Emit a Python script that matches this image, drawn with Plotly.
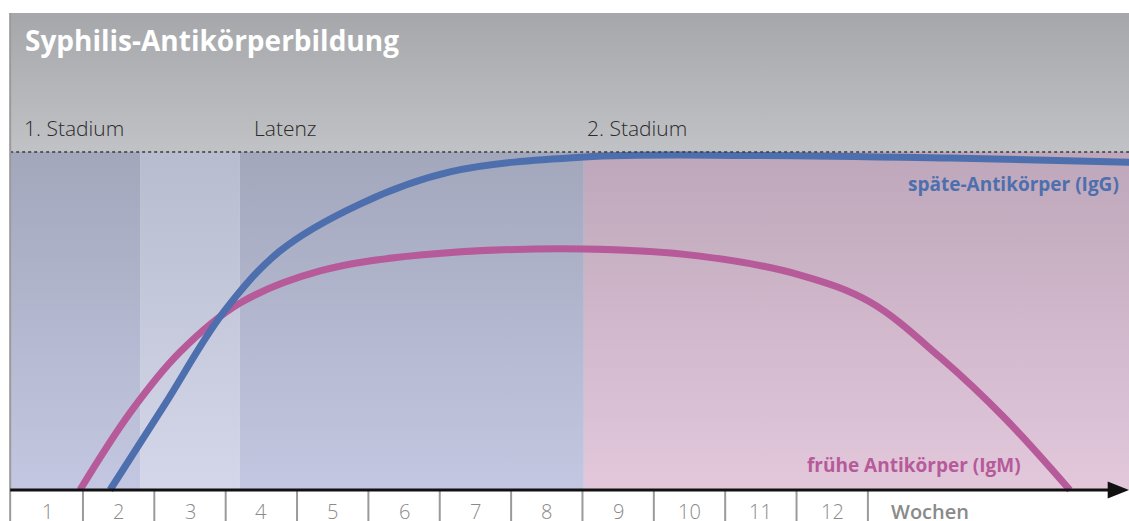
import plotly.graph_objects as go

# ---- data ----
weeks = list(range(1, 13))
week_labels = [str(w) for w in weeks]
unit_label = "Wochen"

igg_x = [1.379, 2.150, 2.962, 3.761, 4.882, 6.144, 8.021, 10.35, 13.15, 15.66]
igg_y = [0, 25.4, 52.4, 70.7, 84.6, 94.1, 98.5, 99.0, 98.2, 97.0]

igm_x = [0.958, 1.659, 2.360, 3.201, 4.322, 5.723, 8.021, 9.647, 11.05, 12.03, 13.01, 13.93, 14.83]
igm_y = [0, 22.8, 40.8, 55.3, 64.8, 69.5, 71.3, 69.2, 63.6, 55.6, 39.3, 21.0, 0]

stage_names = ["1. Stadium", "Latenz", "2. Stadium"]
stage_label_x = [0.15, 3.37, 8.03]
band_edges = [-0.02, 1.80, 3.20, 8.02, 15.66]
band_top = ["#a3a7bc", "#b7bcce", "#a3a7bc", "#bea7ba"]
band_bottom = ["#c3c7e1", "#d3d7e9", "#c3c7e1", "#e3c8dc"]

X_MIN, X_MAX = -0.1626, 15.659
Y_MIN, Y_MAX = -9.17, 144.97
Y_TOP = 141.1  # top of panel

fig = go.Figure()

# header gradient
fig.add_trace(go.Scatter(
    x=[band_edges[0], band_edges[-1], band_edges[-1], band_edges[0], band_edges[0]],
    y=[100, 100, Y_TOP, Y_TOP, 100], mode="lines", fill="toself",
    line=dict(width=0), hoverinfo="skip", showlegend=False,
    fillgradient=dict(type="vertical", start=100, stop=Y_TOP,
                      colorscale=[[0, "#c1c2c5"], [1, "#a6a7aa"]])))

# stage bands
for i in range(len(band_edges) - 1):
    x0, x1 = band_edges[i], band_edges[i + 1]
    fig.add_trace(go.Scatter(
        x=[x0, x1, x1, x0, x0], y=[0, 0, 100, 100, 0], mode="lines", fill="toself",
        line=dict(width=0), hoverinfo="skip", showlegend=False,
        fillgradient=dict(type="vertical", start=0, stop=100,
                          colorscale=[[0, band_bottom[i]], [1, band_top[i]]])))

# curves
fig.add_trace(go.Scatter(x=igm_x, y=igm_y, mode="lines", name="frühe Antikörper (IgM)",
                         line=dict(color="#b65a9a", width=7, shape="spline", smoothing=1.0),
                         showlegend=False, hoverinfo="skip"))
fig.add_trace(go.Scatter(x=igg_x, y=igg_y, mode="lines", name="späte-Antikörper (IgG)",
                         line=dict(color="#4e6fae", width=7, shape="spline", smoothing=1.0),
                         showlegend=False, hoverinfo="skip"))

shapes = []
# dashed top line
shapes.append(dict(type="line", xref="x", yref="y", x0=band_edges[0], x1=X_MAX, y0=100, y1=100,
                   line=dict(color="#3a3a3a", width=1.3, dash="3px,3px")))
# left border
shapes.append(dict(type="line", xref="x", yref="y", x0=band_edges[0], x1=band_edges[0], y0=Y_MIN, y1=Y_TOP,
                   line=dict(color="#9a9a9a", width=2)))
# tick separators
for w in weeks:
    shapes.append(dict(type="line", xref="x", yref="y", x0=w, x1=w, y0=Y_MIN, y1=0,
                       line=dict(color="#9a9a9a", width=2)))
# axis line + arrow
shapes.append(dict(type="line", xref="x", yref="y", x0=band_edges[0], x1=15.40, y0=0, y1=0,
                   line=dict(color="#111111", width=3)))
shapes.append(dict(type="path", xref="x", yref="y",
                   path="M 15.36,2.5 L 15.659,0 L 15.36,-2.5 Z",
                   fillcolor="#111111", line=dict(width=0)))

annotations = []
annotations.append(dict(text="<b>Syphilis-Antikörperbildung</b>", xref="paper", yref="paper",
                        x=23 / 1129, y=1 - 40 / 521, xanchor="left", yanchor="middle", showarrow=False,
                        font=dict(family="Open Sans", size=28, color="white")))
for name, sx in zip(stage_names, stage_label_x):
    annotations.append(dict(text=name, x=sx, y=107.2, xanchor="left", yanchor="middle", showarrow=False,
                            font=dict(family="Open Sans", size=21, color="#2b2b2b", weight=300)))
for w, lab in zip(weeks, week_labels):
    annotations.append(dict(text=lab, x=w - 0.5, y=-6.4, xanchor="center", yanchor="middle", showarrow=False,
                            font=dict(family="Open Sans", size=20, color="#8a8a8a", weight=300)))
annotations.append(dict(text=unit_label, x=12.3, y=-6.4, xanchor="left", yanchor="middle", showarrow=False,
                        font=dict(family="Open Sans", size=20, color="#8a8a8a", weight=600)))
annotations.append(dict(text="<b>späte-Antikörper (IgG)</b>", x=15.55, y=90.6, xanchor="right", yanchor="middle",
                        showarrow=False, font=dict(family="Open Sans", size=19, color="#4e6fae")))
annotations.append(dict(text="<b>frühe Antikörper (IgM)</b>", x=14.18, y=7.4, xanchor="right", yanchor="middle",
                        showarrow=False, font=dict(family="Open Sans", size=19, color="#b65a9a")))

fig.update_layout(
    width=1129, height=521, margin=dict(l=0, r=0, t=0, b=0),
    paper_bgcolor="white", plot_bgcolor="white",
    xaxis=dict(range=[X_MIN, X_MAX], visible=False, fixedrange=True),
    yaxis=dict(range=[Y_MIN, Y_MAX], visible=False, fixedrange=True),
    shapes=shapes, annotations=annotations, showlegend=False,
)

fig.write_html("out.html", config={"displayModeBar": False},
               post_script="document.body.style.margin='0';document.body.style.overflow='hidden';")
